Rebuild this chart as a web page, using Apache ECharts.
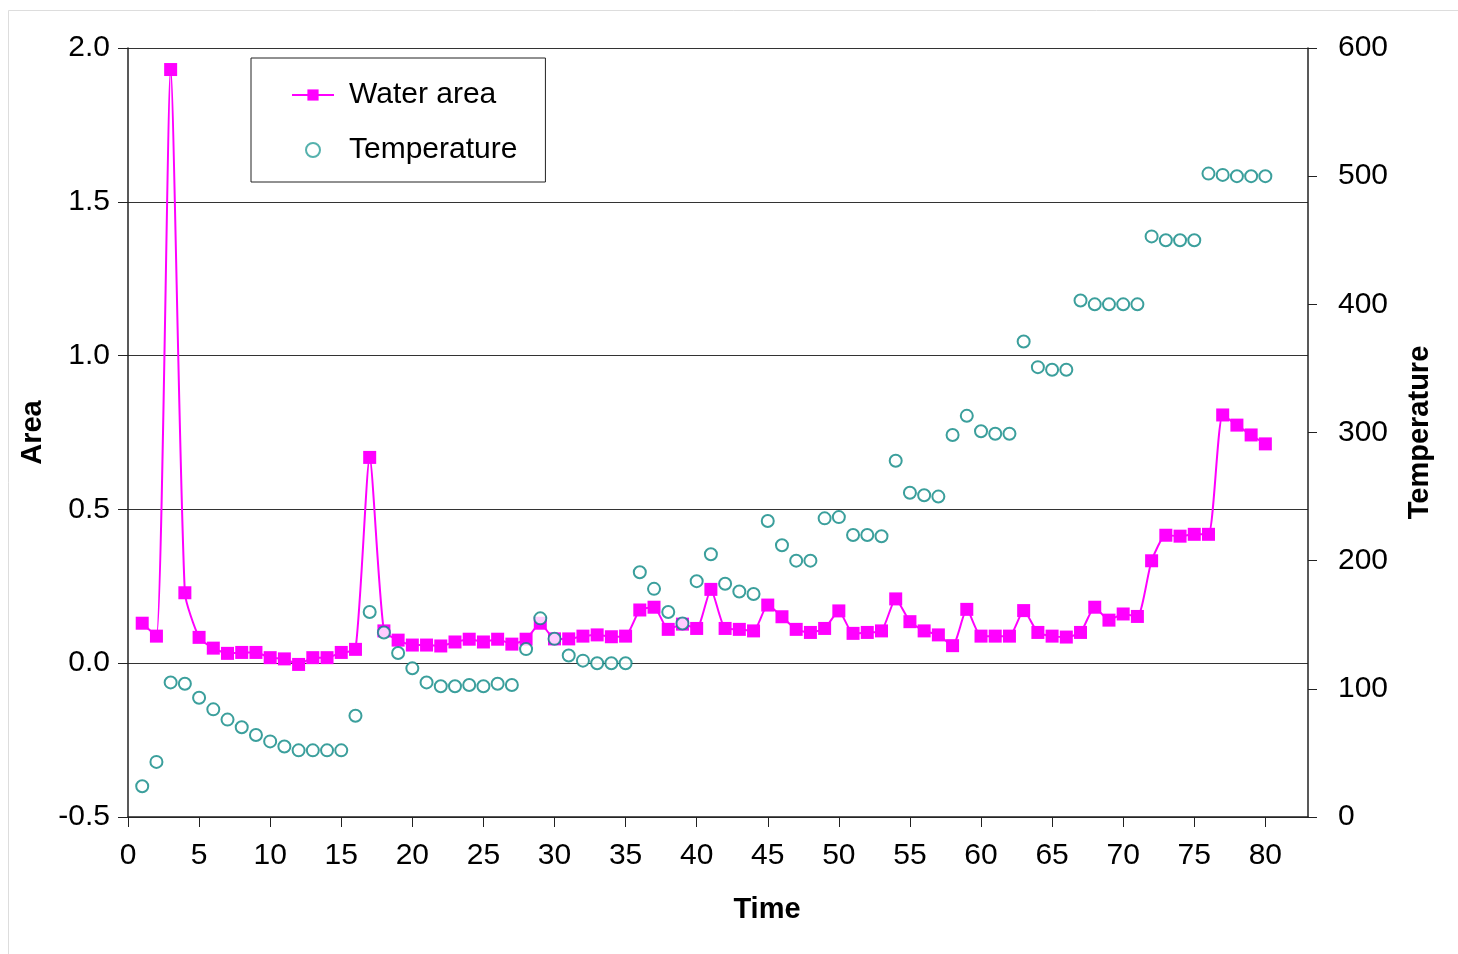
<!DOCTYPE html>
<html>
<head>
<meta charset="utf-8">
<title>Water area and temperature</title>
<script src="https://cdn.jsdelivr.net/npm/echarts@6/dist/echarts.min.js"></script>
<style>
  html, body { margin: 0; padding: 0; background: #fff; }
  #chart { width: 1458px; height: 954px; }
</style>
</head>
<body>
<div id="chart"></div>
<script>
// time steps 1..80
var timeSteps = [];
for (var t = 1; t <= 80; t++) timeSteps.push(t);

// water area (left axis)
var waterArea = [
  0.13, 0.088, 1.93, 0.229, 0.084, 0.049, 0.032, 0.035, 0.035, 0.018,
  0.014, -0.004, 0.018, 0.018, 0.035, 0.045, 0.669, 0.105, 0.075, 0.059,
  0.059, 0.056, 0.069, 0.078, 0.069, 0.078, 0.062, 0.078, 0.13, 0.079,
  0.079, 0.088, 0.092, 0.086, 0.088, 0.173, 0.182, 0.11, 0.127, 0.113,
  0.24, 0.113, 0.11, 0.105, 0.189, 0.151, 0.11, 0.10, 0.113, 0.17,
  0.097, 0.10, 0.105, 0.209, 0.135, 0.105, 0.092, 0.057, 0.175, 0.088,
  0.088, 0.088, 0.171, 0.10, 0.088, 0.085, 0.10, 0.182, 0.14, 0.16,
  0.152, 0.333, 0.416, 0.413, 0.419, 0.419, 0.807, 0.774, 0.742, 0.713
];

// temperature (right axis)
var temperature = [
  24, 43, 105, 104, 93, 84, 76, 70, 64, 59,
  55, 52, 52, 52, 52, 79, 160, 144, 128, 116,
  105, 102, 102, 103, 102, 104, 103, 131, 155, 139,
  126, 122, 120, 120, 120, 191, 178, 160, 151, 184,
  205, 182, 176, 174, 231, 212, 200, 200, 233, 234,
  220, 220, 219, 278, 253, 251, 250, 298, 313, 301,
  299, 299, 371, 351, 349, 349, 403, 400, 400, 400,
  400, 453, 450, 450, 450, 502, 501, 500, 500, 500
];

var xTicks = [0, 5, 10, 15, 20, 25, 30, 35, 40, 45, 50, 55, 60, 65, 70, 75, 80];

var areaData = [], tempData = [];
for (var i = 0; i < timeSteps.length; i++) {
  areaData.push([timeSteps[i], waterArea[i]]);
  tempData.push([timeSteps[i], temperature[i]]);
}

var font = 'Liberation Sans, Arial, sans-serif';
var axisColor = '#222';
var teal = '#0a8783';

var option = {
  backgroundColor: '#fff',
  animation: false,
  textStyle: { fontFamily: font },
  graphic: [{
    type: 'rect',
    left: 6, top: 8,
    shape: { width: 1500, height: 1000 },
    style: { fill: 'none', stroke: '#ddd', lineWidth: 1 },
    silent: true, z: -10
  }],
  grid: { left: 128, right: 150, top: 48, bottom: 137 },
  legend: {
    orient: 'vertical',
    left: 251, top: 58,
    padding: [22, 28, 17, 40],
    itemGap: 25,
    itemWidth: 42,
    itemHeight: 14,
    borderColor: '#222',
    borderWidth: 1,
    textStyle: { fontSize: 30, color: '#000', fontFamily: font, padding: [0, 0, 0, 10] },
    data: [
      { name: 'Water area' },
      { name: 'Temperature', icon: 'emptyCircle', itemStyle: { color: '#fff', borderColor: '#2a9d99', borderWidth: 1.5 } }
    ]
  },
  xAxis: {
    type: 'value',
    min: 0, max: 83, interval: 5,
    name: 'Time',
    nameLocation: 'middle',
    nameGap: 78,
    nameTextStyle: { fontSize: 29, fontWeight: 'bold', color: '#000', padding: [0, 0, 0, 98] },
    axisLine: { show: true, onZero: false, lineStyle: { color: axisColor, width: 1.5 } },
    axisTick: { show: true, length: 10, customValues: xTicks, lineStyle: { color: axisColor } },
    axisLabel: { fontSize: 30, color: '#000', margin: 24, customValues: xTicks },
    splitLine: { show: false }
  },
  yAxis: [{
    type: 'value',
    min: -0.5, max: 2.0, interval: 0.5,
    name: 'Area',
    nameLocation: 'middle',
    nameRotate: 90,
    nameGap: 78,
    nameTextStyle: { fontSize: 29, fontWeight: 'bold', color: '#000' },
    axisLine: { show: true, lineStyle: { color: axisColor, width: 1.5 } },
    axisTick: { show: true, length: 10, lineStyle: { color: axisColor } },
    axisLabel: {
      fontSize: 30, color: '#000', margin: 18,
      formatter: function (v) { return v.toFixed(1); }
    },
    splitLine: { show: true, lineStyle: { color: '#333', width: 1 } }
  }, {
    type: 'value',
    min: 0, max: 600, interval: 100,
    position: 'right',
    name: 'Temperature',
    nameLocation: 'middle',
    nameRotate: 90,
    nameGap: 97,
    nameTextStyle: { fontSize: 29, fontWeight: 'bold', color: '#000' },
    axisLine: { show: true, lineStyle: { color: axisColor, width: 1.5 } },
    axisTick: { show: true, length: 9, lineStyle: { color: axisColor } },
    axisLabel: { fontSize: 30, color: '#000', margin: 30 },
    splitLine: { show: false }
  }],
  series: [{
    name: 'Water area',
    type: 'line',
    yAxisIndex: 0,
    data: areaData,
    smooth: 0.2,
    symbol: 'rect',
    symbolSize: 13,
    itemStyle: { color: '#ff00ff' },
    lineStyle: { color: '#ff00ff', width: 2 },
    z: 3
  }, {
    name: 'Temperature',
    type: 'scatter',
    yAxisIndex: 1,
    data: tempData,
    symbol: 'emptyCircle',
    symbolSize: 12,
    itemStyle: { color: teal, borderColor: teal, borderWidth: 2.5 },
    z: 4
  }]
};

// legend icon for the scatter series: thin teal ring
option.legend.data[1].itemStyle = { color: '#2a9d99', borderColor: '#2a9d99', borderWidth: 1.5 };

var myChart = echarts.init(document.getElementById('chart'));
myChart.setOption(option);
</script>
</body>
</html>
